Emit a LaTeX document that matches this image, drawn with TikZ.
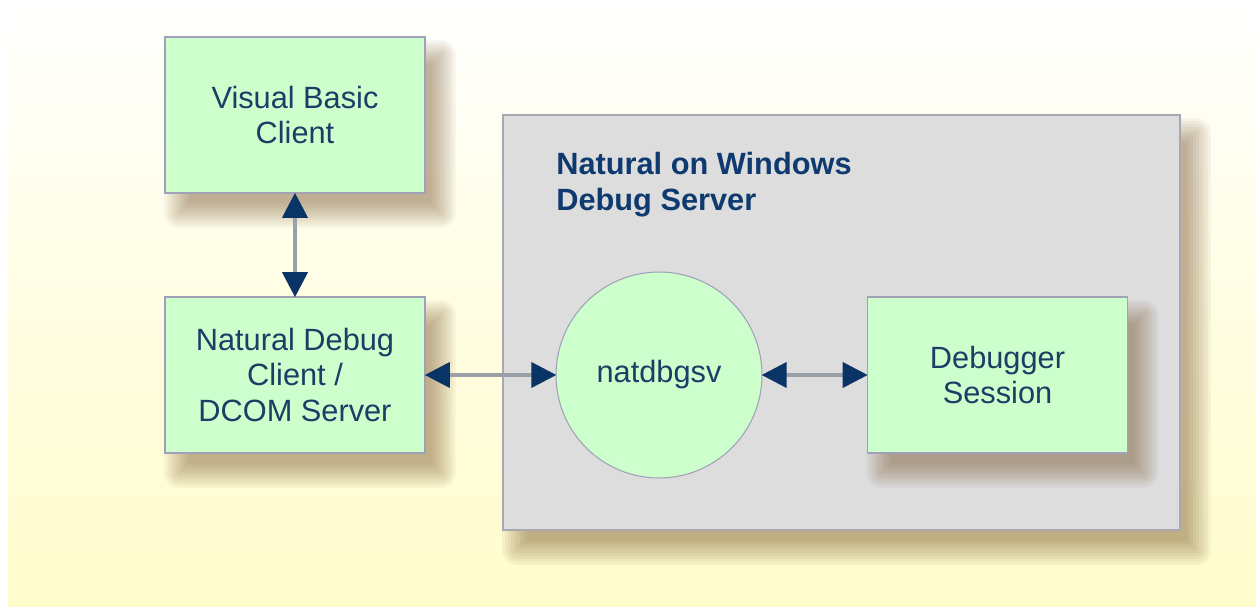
\documentclass[tikz,border=0pt]{standalone}
\usepackage{fontspec}
\setmainfont{Liberation Sans}
\usetikzlibrary{arrows.meta,calc}
\definecolor{bgyellow}{HTML}{FFFCCC}
\definecolor{boxgreen}{HTML}{CCFFCC}
\definecolor{boxborder}{HTML}{A0A0B8}
\definecolor{contgray}{HTML}{DDDDDD}
\definecolor{contborder}{HTML}{A8A8B0}
\definecolor{txtblue}{HTML}{1C3D66}
\definecolor{titleblue}{HTML}{0E3A70}
\definecolor{arrowblue}{HTML}{0A3366}
\definecolor{linegray}{HTML}{9AA0A8}
\definecolor{shadowcol}{HTML}{6A4418}
\pgfdeclarelayer{bg}
\pgfdeclarelayer{cshadow}
\pgfdeclarelayer{cont}
\pgfdeclarelayer{bshadow}
\pgfsetlayers{bg,cshadow,cont,bshadow,main}
\newcommand{\softshadow}[1]{%
  \foreach \r in {-9,-6,...,15}{%
    \pgfmathsetmacro\rr{max(\r,0)*0.567+0.01}%
    \fill[shadowcol, opacity=0.055, rounded corners=\rr pt]
      ($(#1.north west)+(15-\r,19-\r)$) rectangle ($(#1.south east)+(15+\r,19+\r)$);
  }%
}
\tikzset{
  greenbox/.style={draw=boxborder, line width=0.8pt, fill=boxgreen, minimum width=5.2cm, minimum height=3.12cm, inner sep=0pt, align=center, text=txtblue, font=\fontsize{17.5}{20.4}\selectfont},
  greencirc/.style={circle, draw=boxborder, line width=0.6pt, fill=boxgreen, minimum size=4.12cm, inner sep=0pt, align=center, text=txtblue, font=\fontsize{17.5}{20.4}\selectfont},
  container/.style={draw=contborder, line width=1pt, fill=contgray, minimum width=13.54cm, minimum height=8.3cm, inner sep=0pt},
  conn/.style={draw=linegray, line width=2.2pt, {Triangle[length=0.5cm,width=0.5cm,color=arrowblue]}-{Triangle[length=0.5cm,width=0.5cm,color=arrowblue]}, shorten <=-0.5pt, shorten >=-0.5pt},
  title/.style={anchor=north west, inner sep=0pt, align=left, text=titleblue, font=\fontsize{17.5}{20.4}\selectfont\bfseries}
}
\begin{document}
\begin{tikzpicture}[x=0.02cm,y=-0.02cm]
\useasboundingbox (0,0) rectangle (1256,607);
\begin{pgfonlayer}{bg}
\fill[white] (0,0) rectangle (1256,607);
\shade[top color=white, bottom color=bgyellow, middle color=bgyellow!55!white] (8,0) rectangle (1256,607);
\end{pgfonlayer}
% container
\begin{pgfonlayer}{cont}
\node[container] (cont) at (841.5,322.5) {};
\end{pgfonlayer}
\node[title] (ttl) at (556,152) {Natural on Windows\\Debug Server};
% boxes
\node[greenbox] (vb) at (295,115) {Visual Basic\\Client};
\node[greenbox] (ndc) at (295,375) {Natural Debug\\Client /\\DCOM Server};
\node[greencirc] (nat) at (659,375) {natdbgsv};
\node[greenbox] (ds) at (997.5,375) {Debugger\\Session};
% shadows
\begin{pgfonlayer}{cshadow}
\softshadow{cont}
\end{pgfonlayer}
\begin{pgfonlayer}{bshadow}
\softshadow{vb}
\softshadow{ndc}
\softshadow{ds}
\end{pgfonlayer}
% connectors
\draw[conn] (vb.south) -- (ndc.north);
\draw[conn] (ndc.east) -- (nat.west);
\draw[conn] (nat.east) -- (ds.west);
\end{tikzpicture}
\end{document}
